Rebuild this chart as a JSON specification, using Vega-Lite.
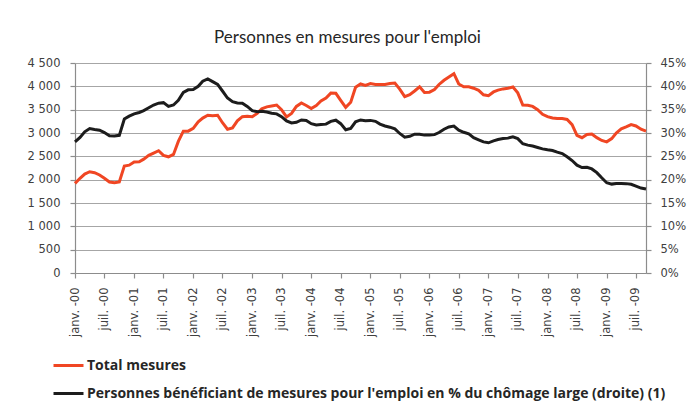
{
  "$schema": "https://vega.github.io/schema/vega-lite/v6.json",
  "width": 571,
  "height": 210,
  "autosize": "none",
  "padding": {"left": 75, "top": 63, "right": 46, "bottom": 133},
  "background": "white",
  "title": {"text": "Personnes en mesures pour l'emploi", "font": "Lato", "fontSize": 17, "fontWeight": "normal", "color": "#262626", "anchor": "middle", "dx": -13, "offset": 10},
  "data": {"values": [
    {"date":"2000-01-01","total":1920,"pct":0.2810},{"date":"2000-02-01","total":2030,"pct":0.2905},{"date":"2000-03-01","total":2120,"pct":0.3025},{"date":"2000-04-01","total":2170,"pct":0.3095},{"date":"2000-05-01","total":2150,"pct":0.3075},{"date":"2000-06-01","total":2100,"pct":0.3060},{"date":"2000-07-01","total":2030,"pct":0.3010},{"date":"2000-08-01","total":1950,"pct":0.2940},{"date":"2000-09-01","total":1935,"pct":0.2935},{"date":"2000-10-01","total":1950,"pct":0.2950},{"date":"2000-11-01","total":2290,"pct":0.3300},{"date":"2000-12-01","total":2310,"pct":0.3360},
    {"date":"2001-01-01","total":2380,"pct":0.3410},{"date":"2001-02-01","total":2385,"pct":0.3440},{"date":"2001-03-01","total":2440,"pct":0.3480},{"date":"2001-04-01","total":2520,"pct":0.3540},{"date":"2001-05-01","total":2570,"pct":0.3600},{"date":"2001-06-01","total":2620,"pct":0.3640},{"date":"2001-07-01","total":2520,"pct":0.3650},{"date":"2001-08-01","total":2490,"pct":0.3570},{"date":"2001-09-01","total":2540,"pct":0.3600},{"date":"2001-10-01","total":2820,"pct":0.3700},{"date":"2001-11-01","total":3040,"pct":0.3870},{"date":"2001-12-01","total":3040,"pct":0.3925},
    {"date":"2002-01-01","total":3100,"pct":0.3930},{"date":"2002-02-01","total":3240,"pct":0.4000},{"date":"2002-03-01","total":3320,"pct":0.4110},{"date":"2002-04-01","total":3380,"pct":0.4160},{"date":"2002-05-01","total":3370,"pct":0.4100},{"date":"2002-06-01","total":3380,"pct":0.4040},{"date":"2002-07-01","total":3220,"pct":0.3900},{"date":"2002-08-01","total":3080,"pct":0.3750},{"date":"2002-09-01","total":3110,"pct":0.3670},{"date":"2002-10-01","total":3260,"pct":0.3645},{"date":"2002-11-01","total":3350,"pct":0.3640},{"date":"2002-12-01","total":3360,"pct":0.3570},
    {"date":"2003-01-01","total":3350,"pct":0.3480},{"date":"2003-02-01","total":3420,"pct":0.3455},{"date":"2003-03-01","total":3520,"pct":0.3465},{"date":"2003-04-01","total":3560,"pct":0.3450},{"date":"2003-05-01","total":3580,"pct":0.3425},{"date":"2003-06-01","total":3600,"pct":0.3410},{"date":"2003-07-01","total":3500,"pct":0.3350},{"date":"2003-08-01","total":3345,"pct":0.3260},{"date":"2003-09-01","total":3420,"pct":0.3215},{"date":"2003-10-01","total":3570,"pct":0.3230},{"date":"2003-11-01","total":3645,"pct":0.3280},{"date":"2003-12-01","total":3590,"pct":0.3270},
    {"date":"2004-01-01","total":3525,"pct":0.3200},{"date":"2004-02-01","total":3590,"pct":0.3170},{"date":"2004-03-01","total":3685,"pct":0.3180},{"date":"2004-04-01","total":3750,"pct":0.3190},{"date":"2004-05-01","total":3855,"pct":0.3250},{"date":"2004-06-01","total":3850,"pct":0.3275},{"date":"2004-07-01","total":3700,"pct":0.3200},{"date":"2004-08-01","total":3550,"pct":0.3070},{"date":"2004-09-01","total":3660,"pct":0.3100},{"date":"2004-10-01","total":3980,"pct":0.3240},{"date":"2004-11-01","total":4050,"pct":0.3280},{"date":"2004-12-01","total":4020,"pct":0.3265},
    {"date":"2005-01-01","total":4060,"pct":0.3270},{"date":"2005-02-01","total":4040,"pct":0.3250},{"date":"2005-03-01","total":4040,"pct":0.3190},{"date":"2005-04-01","total":4040,"pct":0.3150},{"date":"2005-05-01","total":4060,"pct":0.3125},{"date":"2005-06-01","total":4070,"pct":0.3090},{"date":"2005-07-01","total":3940,"pct":0.2990},{"date":"2005-08-01","total":3780,"pct":0.2910},{"date":"2005-09-01","total":3820,"pct":0.2930},{"date":"2005-10-01","total":3900,"pct":0.2975},{"date":"2005-11-01","total":3990,"pct":0.2975},{"date":"2005-12-01","total":3870,"pct":0.2955},
    {"date":"2006-01-01","total":3875,"pct":0.2955},{"date":"2006-02-01","total":3930,"pct":0.2965},{"date":"2006-03-01","total":4040,"pct":0.3010},{"date":"2006-04-01","total":4130,"pct":0.3080},{"date":"2006-05-01","total":4200,"pct":0.3130},{"date":"2006-06-01","total":4270,"pct":0.3150},{"date":"2006-07-01","total":4050,"pct":0.3060},{"date":"2006-08-01","total":3990,"pct":0.3015},{"date":"2006-09-01","total":3990,"pct":0.2980},{"date":"2006-10-01","total":3960,"pct":0.2900},{"date":"2006-11-01","total":3915,"pct":0.2855},{"date":"2006-12-01","total":3820,"pct":0.2810},
    {"date":"2007-01-01","total":3800,"pct":0.2790},{"date":"2007-02-01","total":3880,"pct":0.2830},{"date":"2007-03-01","total":3920,"pct":0.2860},{"date":"2007-04-01","total":3945,"pct":0.2880},{"date":"2007-05-01","total":3960,"pct":0.2890},{"date":"2007-06-01","total":3985,"pct":0.2920},{"date":"2007-07-01","total":3860,"pct":0.2880},{"date":"2007-08-01","total":3600,"pct":0.2770},{"date":"2007-09-01","total":3595,"pct":0.2740},{"date":"2007-10-01","total":3570,"pct":0.2720},{"date":"2007-11-01","total":3500,"pct":0.2690},{"date":"2007-12-01","total":3400,"pct":0.2660},
    {"date":"2008-01-01","total":3350,"pct":0.2640},{"date":"2008-02-01","total":3320,"pct":0.2625},{"date":"2008-03-01","total":3310,"pct":0.2590},{"date":"2008-04-01","total":3310,"pct":0.2560},{"date":"2008-05-01","total":3290,"pct":0.2490},{"date":"2008-06-01","total":3180,"pct":0.2410},{"date":"2008-07-01","total":2950,"pct":0.2310},{"date":"2008-08-01","total":2900,"pct":0.2260},{"date":"2008-09-01","total":2970,"pct":0.2265},{"date":"2008-10-01","total":2980,"pct":0.2230},{"date":"2008-11-01","total":2900,"pct":0.2150},{"date":"2008-12-01","total":2840,"pct":0.2040},
    {"date":"2009-01-01","total":2810,"pct":0.1935},{"date":"2009-02-01","total":2880,"pct":0.1905},{"date":"2009-03-01","total":3000,"pct":0.1920},{"date":"2009-04-01","total":3090,"pct":0.1920},{"date":"2009-05-01","total":3130,"pct":0.1915},{"date":"2009-06-01","total":3180,"pct":0.1900},{"date":"2009-07-01","total":3150,"pct":0.1860},{"date":"2009-08-01","total":3080,"pct":0.1820},{"date":"2009-09-01","total":3040,"pct":0.1800}
  ]},
  "encoding": {
    "x": {
      "field": "date", "type": "temporal",
      "scale": {"type": "utc", "domain": [{"year": 2000, "month": 1, "date": 1, "utc": true}, {"year": 2009, "month": 9, "date": 1, "utc": true}]},
      "axis": {
        "title": null, "grid": false,
        "values": [
          {"year":2000,"month":1,"date":1,"utc":true},{"year":2000,"month":7,"date":1,"utc":true},
          {"year":2001,"month":1,"date":1,"utc":true},{"year":2001,"month":7,"date":1,"utc":true},
          {"year":2002,"month":1,"date":1,"utc":true},{"year":2002,"month":7,"date":1,"utc":true},
          {"year":2003,"month":1,"date":1,"utc":true},{"year":2003,"month":7,"date":1,"utc":true},
          {"year":2004,"month":1,"date":1,"utc":true},{"year":2004,"month":7,"date":1,"utc":true},
          {"year":2005,"month":1,"date":1,"utc":true},{"year":2005,"month":7,"date":1,"utc":true},
          {"year":2006,"month":1,"date":1,"utc":true},{"year":2006,"month":7,"date":1,"utc":true},
          {"year":2007,"month":1,"date":1,"utc":true},{"year":2007,"month":7,"date":1,"utc":true},
          {"year":2008,"month":1,"date":1,"utc":true},{"year":2008,"month":7,"date":1,"utc":true},
          {"year":2009,"month":1,"date":1,"utc":true},{"year":2009,"month":7,"date":1,"utc":true}
        ],
        "labelExpr": "(utcFormat(datum.value, '%m') == '01' ? 'janv. -' : 'juil. -') + utcFormat(datum.value, '%y')",
        "labelAngle": 270, "labelAlign": "right", "labelBaseline": "middle",
        "labelFont": "DejaVu Sans", "labelFontSize": 11.5, "labelColor": "#404040",
        "labelPadding": 9, "tickSize": 5, "labelOverlap": false, "labelFlush": false
      }
    }
  },
  "layer": [
    {
      "mark": {"type": "line", "strokeWidth": 3, "interpolate": "linear"},
      "encoding": {
        "y": {
          "field": "total", "type": "quantitative",
          "scale": {"domain": [0, 4500], "nice": false, "zero": true},
          "axis": {
            "title": null, "orient": "left", "grid": true,
            "values": [0, 500, 1000, 1500, 2000, 2500, 3000, 3500, 4000, 4500],
            "labelExpr": "replace(format(datum.value, ','), ',', ' ')",
            "labelFont": "DejaVu Sans", "labelFontSize": 11.5, "labelColor": "#404040",
            "labelPadding": 10, "tickSize": 5
          }
        },
        "color": {
          "datum": "Total mesures", "type": "nominal",
          "scale": {
            "domain": ["Total mesures", "Personnes bénéficiant de mesures pour l'emploi en % du chômage large (droite) (1)"],
            "range": ["#F04623", "#1C1C1C"]
          },
          "legend": {
            "title": null, "orient": "none", "legendX": -23, "legendY": 286,
            "direction": "vertical", "symbolType": "stroke", "symbolSize": 900,
            "symbolStrokeWidth": 3, "labelFont": "Open Sans", "labelFontSize": 14,
            "labelFontWeight": "bold", "labelColor": "#262626", "labelLimit": 0,
            "labelOffset": 2, "rowPadding": 4
          }
        }
      }
    },
    {
      "mark": {"type": "line", "strokeWidth": 3, "interpolate": "linear"},
      "encoding": {
        "y": {
          "field": "pct", "type": "quantitative",
          "scale": {"domain": [0, 0.45], "nice": false, "zero": true},
          "axis": {
            "title": null, "orient": "right", "grid": false, "format": ".0%",
            "values": [0, 0.05, 0.1, 0.15, 0.2, 0.25, 0.3, 0.35, 0.4, 0.45],
            "labelFont": "DejaVu Sans", "labelFontSize": 11.5, "labelColor": "#404040",
            "labelPadding": 9, "tickSize": 5
          }
        },
        "color": {"datum": "Personnes bénéficiant de mesures pour l'emploi en % du chômage large (droite) (1)", "type": "nominal"}
      }
    }
  ],
  "resolve": {"scale": {"y": "independent"}},
  "config": {
    "view": {"stroke": null},
    "axis": {"domainColor": "#8c8c8c", "tickColor": "#8c8c8c", "gridColor": "#a6a6a6", "gridWidth": 1.2, "domainWidth": 1.2, "tickWidth": 1.2}
  }
}
